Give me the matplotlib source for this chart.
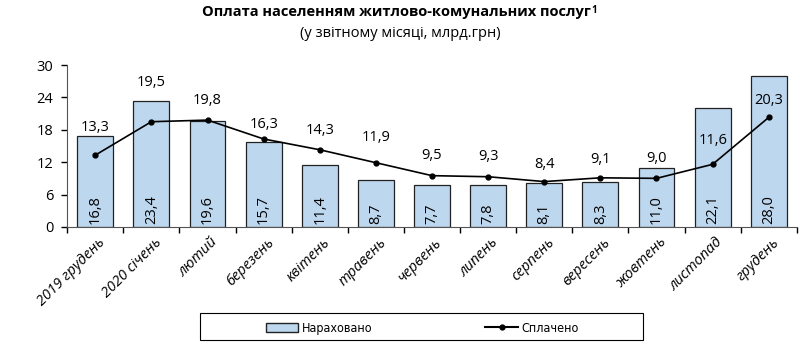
import numpy as np
import matplotlib.pyplot as plt
from matplotlib.patches import Patch, Rectangle
from matplotlib.lines import Line2D

plt.rcParams['font.family'] = ['Open Sans', 'DejaVu Sans']

months = ['2019 грудень', '2020 січень', 'лютий', 'березень', 'квітень', 'травень',
          'червень', 'липень', 'серпень', 'вересень', 'жовтень', 'листопад', 'грудень']
accrued = [16.8, 23.4, 19.6, 15.7, 11.4, 8.7, 7.7, 7.8, 8.1, 8.3, 11.0, 22.1, 28.0]
paid = [13.3, 19.5, 19.8, 16.3, 14.3, 11.9, 9.5, 9.3, 8.4, 9.1, 9.0, 11.6, 20.3]
# vertical offset of the "paid" labels above their point, in pixels
lbl_off = [28, 39, 20, 14, 19, 25, 20, 20, 17, 18, 20, 24, 17]

fig = plt.figure(figsize=(8, 3.48), dpi=100)
ax = fig.add_axes([0.084, 0.348, 0.912, 0.465])

x = np.arange(len(months))
ax.bar(x, accrued, width=0.64, color='#BDD7EE', edgecolor='#222222', linewidth=0.9, zorder=2)
ax.plot(x, paid, color='black', linewidth=1.2, marker='o', markersize=3.5, zorder=3)

for i, v in enumerate(accrued):
    ax.text(x[i], 0.6, f'{v:.1f}'.replace('.', ','), rotation=90, ha='center', va='bottom',
            fontsize=10.5, zorder=4)
for i, v in enumerate(paid):
    ax.annotate(f'{v:.1f}'.replace('.', ','), (x[i], v), xytext=(0, lbl_off[i] * 0.72),
                textcoords='offset points', ha='center', va='center', fontsize=10.5, zorder=4)

ax.set_xlim(-0.5, len(months) - 0.5)
ax.set_ylim(0, 30)
ax.set_yticks(range(0, 31, 6))
ax.set_xticks(np.arange(-0.5, len(months), 1.0))
ax.set_xticklabels([])
ax.tick_params(axis='x', length=4, direction='out', width=1)
ax.tick_params(axis='y', length=4, direction='out', width=1, labelsize=10.5, pad=6)
for s in ['top', 'right']:
    ax.spines[s].set_visible(False)
ax.spines['left'].set_color('#555555')
ax.spines['bottom'].set_color('#555555')

for i, m in enumerate(months):
    ax.text(x[i] + 0.05, -1.5, m, rotation=45, ha='right', va='top', fontsize=10.5,
            style='italic', rotation_mode='anchor')

title = fig.text(0.495, 0.965, 'Оплата населенням житлово-комунальних послуг', ha='center',
                 va='center', fontsize=10.5, fontweight='bold')
fig.text(0.5, 0.905, '(у звітному місяці, млрд.грн)', ha='center', va='center', fontsize=10.5)
ax.annotate('1', xy=(1, 1), xycoords=title, xytext=(1, 0), textcoords='offset points',
            ha='left', va='top', fontsize=7, fontweight='bold', annotation_clip=False)

handles = [Patch(facecolor='#BDD7EE', edgecolor='#222222', label='Нараховано'),
           Line2D([0], [0], color='black', marker='o', markersize=3.5, label='Сплачено')]
leg = fig.legend(handles=handles, loc='center', bbox_to_anchor=(0.528, 0.057), ncol=2,
                 frameon=False, columnspacing=9, handlelength=2.6, handletextpad=0.3,
                 prop={'family': 'DejaVu Sans', 'stretch': 'condensed', 'size': 9})
fig.add_artist(Rectangle((0.25, 0.023), 0.554, 0.078, transform=fig.transFigure,
                         fill=False, edgecolor='black', linewidth=0.8))

fig.savefig('out.png', dpi=100)
